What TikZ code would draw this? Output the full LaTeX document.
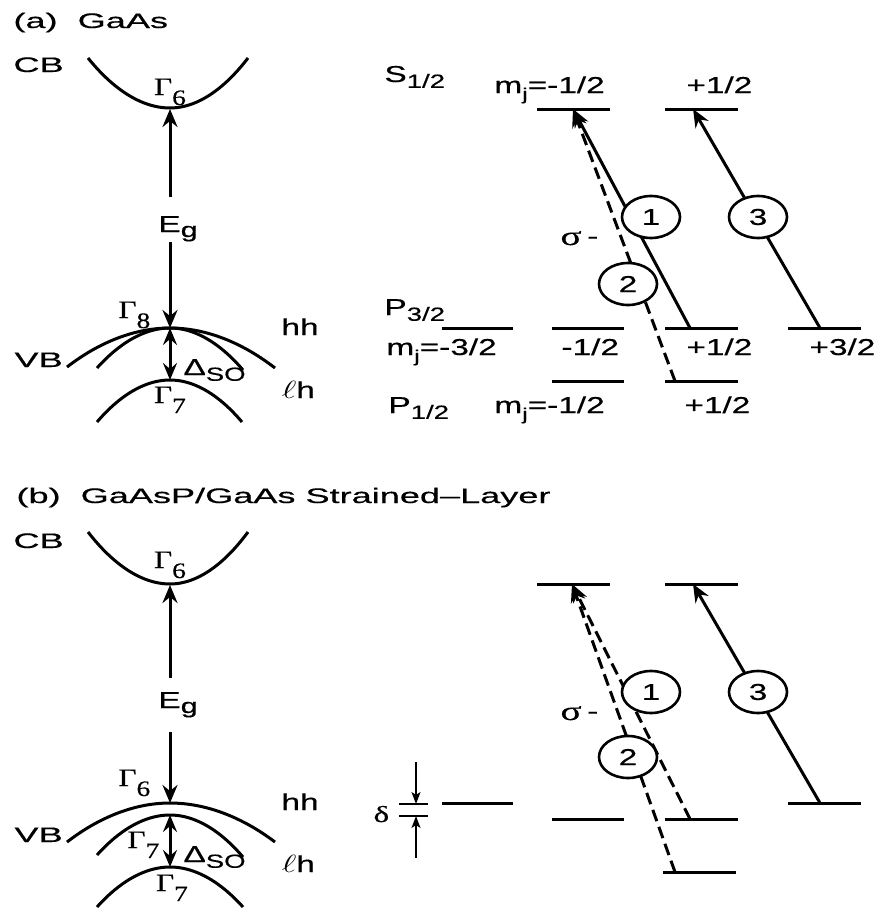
\documentclass[tikz,border=0pt]{standalone}
\usepackage{fontspec}
\usepackage{graphicx}
\setmainfont{Liberation Sans}[FakeBold=0.4]
\newfontfamily\serif{Liberation Serif}[FakeBold=0.4]
\usetikzlibrary{arrows.meta,shapes.geometric}
\newcommand{\W}[1]{\scalebox{1.45}[1]{#1}}
\newcommand{\WT}[1]{\scalebox{1.72}[1]{#1}}
\newcommand{\lo}[1]{\raisebox{-0.25em}{\fontsize{19}{19}\selectfont #1}}
\newcommand{\loj}[1]{\raisebox{-0.3em}{\fontsize{17}{17}\selectfont #1}}
\newcommand{\Eg}{E\raisebox{-0.22em}{\fontsize{21}{21}\selectfont g}}
\newcommand{\Gam}[1]{\scalebox{1.25}[1]{\serif\fontsize{25}{25}\selectfont Γ\raisebox{-0.4em}{\fontsize{22}{22}\selectfont #1}}}
\newcommand{\sig}{{\serif\fontsize{27}{27}\selectfont σ}\,\raisebox{0.05em}{-}}
\begin{document}
\begin{tikzpicture}[x=1pt,y=-1pt,line width=3pt,
  txt/.style={inner sep=0pt,font=\fontsize{23}{27}\selectfont},
  ttl/.style={inner sep=0pt,font=\fontsize{21}{25}\selectfont},
  arr/.style={-{Stealth[length=18pt,width=15pt,inset=6pt]}},
  darr/.style={{Stealth[length=17pt,width=14pt,inset=6pt]}-{Stealth[length=17pt,width=14pt,inset=6pt]}},
  sarr/.style={line width=1.5pt,-{Stealth[length=12pt,width=9pt,inset=3pt]}},
  num/.style={ellipse,draw,line width=2.6pt,fill=white,minimum width=58pt,minimum height=42pt,inner sep=0pt,font=\fontsize{23}{27}\selectfont},
  dsh/.style={dash pattern=on 12pt off 6pt},
  thinl/.style={line width=1.3pt}]
\useasboundingbox (0,0) rectangle (880,913);

% ================= panel (a) left =================
\node[ttl,anchor=base west] (ta) at (12,28) {\WT{(a)\ \ GaAs}};
\node[ttl,anchor=base west] (cbA) at (12,72) {\WT{CB}};
\draw (88,58) parabola bend (170,108) (248,58);
\coordinate (cbminA) at (170,109);
\node[txt,anchor=base] (g6A) at (170,95) {\Gam{6}};
\node[txt,anchor=base west] (egA) at (157,232) {\W{\Eg}};
\coordinate (egtA) at (170,197);
\coordinate (egbA) at (170,242);
\coordinate (vbtA) at (170,328);
\coordinate (soA) at (170,380);
\draw[arr] (egtA) -- (cbminA);
\draw[arr] (egbA) -- (vbtA);
\draw (67,367) parabola bend (170,328) (275,368);
\draw (97,368) parabola bend (170,328) (243,370);
\draw (97,422) parabola bend (170,380) (242,422);
\draw[darr] (vbtA) -- (soA);
\node[txt,anchor=base west] (g8A) at (117,318) {\Gam{8}};
\node[ttl,anchor=base west] (vbA) at (13,367) {\WT{VB}};
\node[txt,anchor=base west] (hhA) at (280,335) {\W{hh}};
\node[txt,anchor=base west] (lhA) at (280,398) {\W{$\ell$h}};
\node[txt,anchor=base west] (dsoA) at (182,375) {\W{Δ\lo{SO}}};
\node[txt,anchor=base] (g7A) at (170,403) {\Gam{7}};

% ================= panel (a) right =================
\node[txt,anchor=base west] (s12A) at (383,82) {\W{S\lo{1/2}}};
\node[txt,anchor=base west] (mjsA) at (493,93) {\W{m\loj{j}=-1/2}};
\node[txt,anchor=base west] (ps12A) at (685,93) {\W{+1/2}};
\draw (537,109) -- (610,109);
\draw (665,109) -- (738,109);
\node[txt,anchor=base west] (p32A) at (383,315) {\W{P\lo{3/2}}};
\draw (442,328) -- (513,328);
\draw (552,328) -- (624,328);
\draw (665,328) -- (738,328);
\draw (788,328) -- (861,328);
\node[txt,anchor=base west] (mj32A) at (385,355) {\W{m\loj{j}=-3/2}};
\node[txt,anchor=base west] (m12A) at (560,355) {\W{-1/2}};
\node[txt,anchor=base west] (p12A) at (685,355) {\W{+1/2}};
\node[txt,anchor=base west] (p32vA) at (808,355) {\W{+3/2}};
\draw (552,381) -- (624,381);
\draw (665,381) -- (738,381);
\node[txt,anchor=base west] (p12lA) at (387,413) {\W{P\lo{1/2}}};
\node[txt,anchor=base west] (mjpA) at (493,413) {\W{m\loj{j}=-1/2}};
\node[txt,anchor=base west] (pp12A) at (683,413) {\W{+1/2}};
\coordinate (sA1) at (573,109);
\coordinate (sA2) at (693,109);
\coordinate (pA1) at (690,328);
\coordinate (pA2) at (675,381);
\coordinate (pA3) at (820,328);
\draw[arr] (pA1) -- (sA1);
\draw[arr,dsh] (pA2) -- (sA1);
\draw[arr] (pA3) -- (sA2);
\node[num] (c1A) at (651,217) {\W{1}};
\node[num] (c2A) at (628,284) {\W{2}};
\node[num] (c3A) at (758,217) {\W{3}};
\node[txt,anchor=base west] (sigA) at (559,245) {\W{\sig}};

% ================= panel (b) left =================
\node[ttl,anchor=base west] (tb) at (15,503) {\WT{(b)\ \ GaAsP/GaAs Strained–Layer}};
\node[ttl,anchor=base west] (cbB) at (12,548) {\WT{CB}};
\draw (88,532) parabola bend (170,584) (248,532);
\coordinate (cbminB) at (170,585);
\node[txt,anchor=base] (g6B) at (170,568) {\Gam{6}};
\node[txt,anchor=base west] (egB) at (157,708) {\W{\Eg}};
\coordinate (egtB) at (170,678);
\coordinate (egbB) at (170,732);
\coordinate (hhB) at (170,803);
\coordinate (lhB) at (170,815);
\coordinate (soB) at (170,867);
\draw[arr] (egtB) -- (cbminB);
\draw[arr] (egbB) -- (hhB);
\draw (67,842) parabola bend (170,803) (275,842);
\draw (97,855) parabola bend (170,815) (243,857);
\draw (97,907) parabola bend (170,867) (243,907);
\draw[darr] (lhB) -- (soB);
\node[txt,anchor=base west] (g6vB) at (117,786) {\Gam{6}};
\node[ttl,anchor=base west] (vbB) at (13,842) {\WT{VB}};
\node[txt,anchor=base west] (hhlB) at (280,810) {\W{hh}};
\node[txt,anchor=base west] (g7iB) at (126,848) {\Gam{7}};
\node[txt,anchor=base west] (dsoB) at (182,862) {\W{Δ\lo{SO}}};
\node[txt,anchor=base west] (lhlB) at (280,872) {\W{$\ell$h}};
\node[txt,anchor=base] (g7B) at (172,891) {\Gam{7}};

% ================= panel (b) right =================
\draw (537,584) -- (610,584);
\draw (665,584) -- (738,584);
\draw (442,803) -- (513,803);
\draw (788,803) -- (861,803);
\draw (552,819) -- (624,819);
\draw (665,819) -- (738,819);
\draw (663,872) -- (736,872);
\coordinate (sB1) at (572,584);
\coordinate (sB2) at (693,584);
\coordinate (pB1) at (690,819);
\coordinate (pB2) at (675,872);
\coordinate (pB3) at (820,803);
\draw[arr,dsh] (pB1) -- (sB1);
\draw[arr,dsh] (pB2) -- (sB1);
\draw[arr] (pB3) -- (sB2);
\node[num] (c1B) at (651,692) {\W{1}};
\node[num] (c2B) at (628,757) {\W{2}};
\node[num] (c3B) at (758,692) {\W{3}};
\node[txt,anchor=base west] (sigB) at (559,720) {\W{\sig}};
% delta marker
\node[txt,anchor=base west] (delB) at (372,822) {\W{\serif δ}};
\draw[thinl] (399,804) -- (428,804);
\draw[thinl] (399,816) -- (428,816);
\coordinate (dt0) at (416,762);
\coordinate (dt1) at (416,804);
\coordinate (db0) at (416,858);
\coordinate (db1) at (416,816);
\draw[sarr] (dt0) -- (dt1);
\draw[sarr] (db0) -- (db1);
\end{tikzpicture}
\end{document}
